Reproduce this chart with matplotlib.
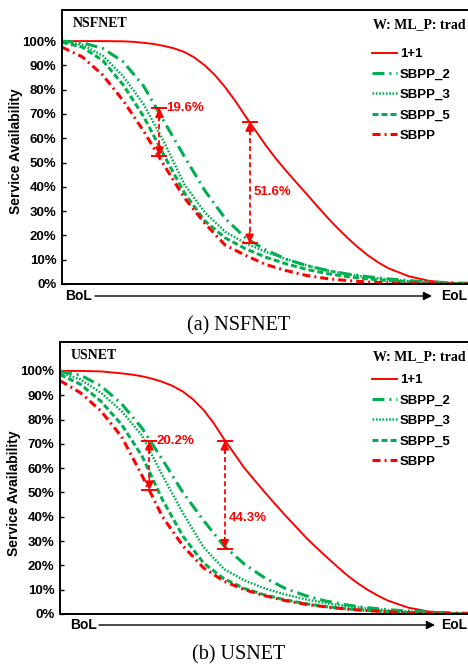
import matplotlib
matplotlib.use('Agg')
import matplotlib.pyplot as plt
import numpy as np

plt.rcParams['font.family'] = ['Liberation Sans', 'DejaVu Sans']
plt.rcParams['lines.scale_dashes'] = False

# position along lifetime, BoL -> EoL
t = [0, 0.05, 0.1, 0.15, 0.2, 0.25, 0.3, 0.35, 0.4, 0.45, 0.5,
     0.55, 0.6, 0.65, 0.7, 0.75, 0.8, 0.85, 0.9, 0.95, 1.0]
# finer sampling for the 1+1 curves
t_fine = [0, 0.05, 0.1, 0.15, 0.175, 0.2, 0.225, 0.25, 0.275, 0.3, 0.325, 0.35,
          0.375, 0.4, 0.425, 0.45, 0.475, 0.5, 0.525, 0.55, 0.575, 0.6, 0.625,
          0.65, 0.675, 0.7, 0.725, 0.75, 0.775, 0.8, 0.85, 0.9, 0.95, 1.0]

series_names = ['1+1', 'SBPP_2', 'SBPP_3', 'SBPP_5', 'SBPP']

# NSFNET availability (%)
nsf_11 = [100, 100, 100, 99.9, 99.7, 99.3, 98.8, 98, 97, 95.5, 93.2, 90,
          86, 81, 75.3, 69, 63, 57, 51.5, 46.5, 41.7, 37, 32.2,
          27.5, 23.1, 19, 15.2, 11.8, 8.9, 6.5, 3.2, 1.3, 0.4, 0.1]
nsf_sbpp2 = [100, 99.3, 97, 91.5, 81.5, 67, 52.5, 38.5, 27, 19, 14,
             10.2, 7.6, 5.6, 4.1, 3, 2.1, 1.4, 0.9, 0.5, 0.3]
nsf_sbpp3 = [100, 98.5, 94, 85.5, 74, 58.5, 41, 29.5, 21.5, 16.8, 13.2,
             10.2, 7.6, 5.6, 4, 2.8, 1.9, 1.2, 0.7, 0.4, 0.2]
nsf_sbpp5 = [99.5, 97.5, 92, 82, 69, 53, 37.5, 26, 19, 14.5, 11,
             8.3, 6, 4.3, 3, 2.1, 1.4, 0.9, 0.5, 0.3, 0.1]
nsf_sbpp = [97.5, 93.5, 86, 75.5, 63, 49, 35.5, 25, 16, 11.8, 8,
            5.5, 3.5, 2.2, 1.4, 0.8, 0.5, 0.3, 0.2, 0.1, 0]

# USNET availability (%)
us_11 = [100, 100, 99.8, 99, 98.5, 97.8, 96.8, 95.5, 93.8, 91.5, 88.2, 84,
         78.5, 72, 66, 60, 55, 50, 45.2, 40.5, 36, 31.5, 27.4,
         23.5, 19.7, 16, 12.8, 10, 7.6, 5.5, 2.6, 1.0, 0.4, 0.1]
us_sbpp2 = [99.7, 98.3, 93.8, 86.5, 76.5, 63.5, 50, 38.5, 28, 20.5, 14.8,
            10.5, 7.5, 5.3, 3.7, 2.6, 1.8, 1.2, 0.8, 0.5, 0.3]
us_sbpp3 = [99.3, 96.5, 91, 83.5, 73.5, 57, 41.5, 27.5, 18.5, 13.8, 10.5,
            8, 6, 4.4, 3.2, 2.3, 1.6, 1.0, 0.6, 0.3, 0.2]
us_sbpp5 = [98.5, 94.5, 87.5, 78, 65, 47, 32, 21, 14.5, 10.5, 7.8,
            5.8, 4.2, 3, 2.1, 1.5, 1, 0.6, 0.4, 0.2, 0.1]
us_sbpp = [96, 91, 83.5, 73, 57, 40, 28, 19, 13.5, 10, 7.5,
           5.5, 4, 2.9, 2, 1.4, 0.9, 0.5, 0.3, 0.2, 0.1]

# gap annotations: (x, top %, bottom %, label)
nsf_gaps = [(0.239, 72.3, 52.7, '19.6%'), (0.46, 66.6, 16.8, '51.6%')]
us_gaps = [(0.218, 71.2, 51.0, '20.2%'), (0.402, 71.2, 26.9, '44.3%')]

yticks = [0, 10, 20, 30, 40, 50, 60, 70, 80, 90, 100]
ytick_labels = ['%d%%' % v for v in yticks]

RED = '#FF0000'
GREEN = '#00B050'

styles = [
    dict(color=RED, lw=1.4, ls='-'),
    dict(color=GREEN, lw=2.2, dashes=(8.6, 3.6, 1.4, 3.6)),
    dict(color=GREEN, lw=1.8, dashes=(1.2, 1.2)),
    dict(color=GREEN, lw=2.2, dashes=(4.3, 2.2)),
    dict(color=RED, lw=2.2, dashes=(5.8, 2.9, 1.4, 2.9)),
]


def draw_gap(ax, x, ytop, ybot, label, txt_dx, txt_y):
    ax.plot([x, x], [ytop, ybot], color=RED, lw=1.3, dashes=(3.6, 2.2), zorder=5)
    ax.plot([x, x], [ytop, ybot], ls='none', marker='_', ms=12, mew=1.4, color=RED, zorder=6)
    for y, d in ((ytop, -8), (ybot, 8)):
        ax.annotate('', xy=(x, y), xytext=(0, d), textcoords='offset points',
                    arrowprops=dict(arrowstyle='-|>,head_length=0.5,head_width=0.25',
                                    color=RED, lw=1.2, shrinkA=0, shrinkB=0), zorder=6)
    ax.annotate(label, xy=(x, txt_y), xytext=(txt_dx, 0), textcoords='offset points',
                ha='left', va='center', color=RED, fontsize=9.5, fontweight='bold')


def draw_panel(ax, data, gaps, net, ymax, text_pos, leg_xy, ylab_xy):
    xs = [t_fine, t, t, t, t]
    for xv, vals, name, st in zip(xs, data, series_names, styles):
        ax.plot(xv, vals, label=name, **st)
    ax.set_xlim(0, 1)
    ax.set_ylim(0, ymax)
    ax.set_xticks([])
    ax.set_yticks(yticks)
    ax.set_yticklabels(ytick_labels, fontweight='bold', fontsize=9.5)
    ax.tick_params(axis='y', direction='in', length=3, width=1, pad=4)
    for s in ax.spines.values():
        s.set_linewidth(1.4)
    ax.set_ylabel('Service Availability', fontweight='bold', fontsize=10)
    ax.yaxis.set_label_coords(*ylab_xy)
    # first gap: label beside the top cap, second: label mid-way
    x, yt, yb, lab = gaps[0]
    draw_gap(ax, x, yt, yb, lab, 5, yt)
    x, yt, yb, lab = gaps[1]
    draw_gap(ax, x, yt, yb, lab, 3, text_pos)
    ax.text(0.027, 0.95, net, transform=ax.transAxes, fontsize=10, fontweight='bold',
            family='Liberation Serif', ha='left', va='center')
    ax.text(0.99, 0.945, 'W: ML_P: trad', transform=ax.transAxes, fontsize=10,
            fontweight='bold', family='Liberation Serif', ha='right', va='center')
    leg = ax.legend(loc='upper left', bbox_to_anchor=leg_xy, bbox_transform=fig.transFigure,
                    frameon=False, fontsize=9.5, handlelength=1.9, handletextpad=0.2,
                    labelspacing=0.62, borderpad=0, borderaxespad=0)
    for tx in leg.get_texts():
        tx.set_fontweight('bold')


fig = plt.figure(figsize=(4.68, 6.67), dpi=100)

ax1 = fig.add_axes([62 / 468, 1 - 284 / 667, 1.004 - 62 / 468, 274 / 667])
draw_panel(ax1, [nsf_11, nsf_sbpp2, nsf_sbpp3, nsf_sbpp5, nsf_sbpp], nsf_gaps,
           'NSFNET', 112.8, 38, (372 / 468, 1 - 48 / 667), (-0.096, 0.485))

ax2 = fig.add_axes([60 / 468, 1 - 614 / 667, 1.004 - 60 / 468, 272 / 667])
draw_panel(ax2, [us_11, us_sbpp2, us_sbpp3, us_sbpp5, us_sbpp], us_gaps,
           'USNET', 111.9, 39.6, (372 / 468, 1 - 374 / 667), (-0.096, 0.443))

# BoL -> EoL arrows under each panel
for yb, xl, xa0, xa1 in ((296, 65, 95, 432), (625, 70, 99, 435)):
    fy = 1 - yb / 667
    fig.text(xl / 468, fy, 'BoL', fontsize=10, fontweight='bold', ha='left', va='center')
    fig.text(467 / 468, fy, 'EoL', fontsize=10, fontweight='bold', ha='right', va='center')
    fig.patches.append(matplotlib.patches.FancyArrowPatch(
        (xa0 / 468, fy), (xa1 / 468, fy), transform=fig.transFigure,
        arrowstyle='-|>,head_length=5,head_width=2.5', color='black', lw=1.0,
        shrinkA=0, shrinkB=0))

fig.text(239 / 468, 1 - 326 / 667, '(a) NSFNET', family='Liberation Serif', fontsize=14.5,
         ha='center', va='center')
fig.text(239 / 468, 1 - 655 / 667, '(b) USNET', family='Liberation Serif', fontsize=14.5,
         ha='center', va='center')

fig.savefig('out.png', dpi=100)
